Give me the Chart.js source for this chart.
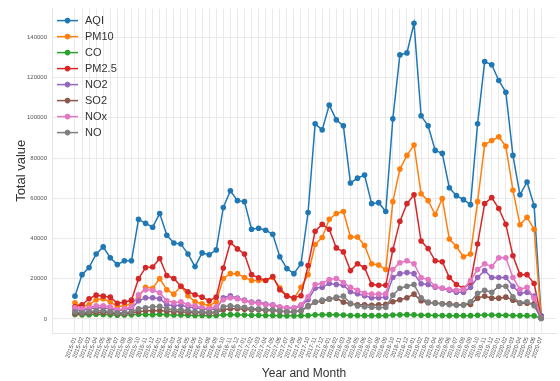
<!DOCTYPE html>
<html>
<head>
<meta charset="utf-8">
<script src="https://cdn.jsdelivr.net/npm/chart.js@4.4.0/dist/chart.umd.min.js"></script>
<style>
  html, body { margin: 0; padding: 0; background: #fff; overflow: hidden; }
  #c { display: block; }
</style>
</head>
<body>
<canvas id="c" width="560" height="381"></canvas>
<script>
// Monthly totals per pollutant, Jan 2015 – Jul 2020
const months = [
  '2015-01','2015-02','2015-03','2015-04','2015-05','2015-06','2015-07','2015-08','2015-09','2015-10','2015-11','2015-12',
  '2016-01','2016-02','2016-03','2016-04','2016-05','2016-06','2016-07','2016-08','2016-09','2016-10','2016-11','2016-12',
  '2017-01','2017-02','2017-03','2017-04','2017-05','2017-06','2017-07','2017-08','2017-09','2017-10','2017-11','2017-12',
  '2018-01','2018-02','2018-03','2018-04','2018-05','2018-06','2018-07','2018-08','2018-09','2018-10','2018-11','2018-12',
  '2019-01','2019-02','2019-03','2019-04','2019-05','2019-06','2019-07','2019-08','2019-09','2019-10','2019-11','2019-12',
  '2020-01','2020-02','2020-03','2020-04','2020-05','2020-06','2020-07'
];

const yTicks = [0, 20000, 40000, 60000, 80000, 100000, 120000, 140000];

const aqi = [11300,22000,25500,32300,35800,30400,27000,28900,28900,49500,
  47500,45600,52400,41600,37700,37200,32300,26000,32800,31900,
  34300,55400,63700,58800,58300,44600,45100,44100,42100,30900,
  25000,22500,27400,52900,97000,94000,106300,99000,96000,67600,
  70000,71500,57300,57800,53400,99500,131300,132300,147000,101000,
  96000,83800,82300,65200,61300,59300,56800,97000,128000,126400,
  118600,112700,81300,61700,68100,56300,1500];

const pm10 = [8000,6000,7000,9500,10000,8500,6000,6500,7500,11000,
  15700,15200,20000,14500,12300,16200,11500,8500,7500,6500,
  8500,20100,22500,22500,20600,19100,19100,19100,20600,15500,
  11500,10000,15700,22000,37000,40500,49500,52400,53400,40700,
  40700,36500,27400,26800,24500,58300,74500,81300,86500,62200,
  58800,51900,59800,39700,36000,30900,32300,58300,86700,88700,
  90600,85800,64000,46800,50500,44600,500];

const co = [2200,2000,2100,2300,2200,2000,1800,1900,2000,2300,
  2200,2100,2300,2000,1900,1900,1800,1700,1700,1600,
  1700,2000,2100,2000,1900,1800,1800,1700,1700,1600,
  1500,1500,1600,1700,2000,2000,2100,2000,1900,1700,
  1700,1600,1600,1600,1600,1900,2000,2100,2000,1800,
  1800,1700,1700,1600,1600,1600,1600,1800,1900,1900,
  1800,1800,1700,1600,1600,1500,200];

const pm25 = [6000,7000,10000,11800,11300,10800,7800,8300,9300,20000,
  25500,25800,30000,21600,20100,16200,13500,12000,10800,9000,
  10800,25300,38000,34800,32300,22000,20400,19100,21100,14500,
  11300,10500,11500,26500,43600,47000,44600,35300,33300,24000,
  27400,25500,17100,16700,16700,34300,48500,57300,61700,38700,
  35000,28900,28400,20600,17100,15200,18100,37200,57300,60300,
  54900,47000,31400,22000,22000,17600,800];

const no2 = [4500,4000,5000,5500,5500,5000,4000,4500,5000,9000,
  10500,10500,10000,7000,6500,6800,6000,5500,5000,4500,
  5000,10500,11500,10300,9300,8300,8300,7400,7000,5800,
  5400,5400,6500,9500,15200,15700,17600,17100,16700,13500,
  12500,11500,10500,10500,10800,20600,22500,23000,22500,17500,
  17100,15700,15200,14200,13200,13200,15700,20600,24000,20600,
  20600,20600,16200,12700,13200,11300,400];

const so2 = [2500,2500,3000,3200,3200,3000,2500,2500,3000,3500,
  4000,4000,4200,3800,3500,3500,3200,3000,3000,2800,
  3000,4500,5000,5000,4800,4500,4500,4200,4200,3800,
  3500,3500,4000,6500,8300,8800,9800,10300,8300,7500,
  7000,7000,6800,7000,7200,8500,9500,10500,12300,9000,
  8000,8000,7500,7500,7000,7000,7200,10300,11300,10300,
  10300,10800,9300,7800,7800,7500,300];

const nox = [5500,5000,5500,6500,6500,6000,4500,5000,6000,12000,
  14500,14200,13000,9000,8000,8500,7000,6500,5500,5000,
  6000,9500,10500,10000,9000,8000,7800,7000,6800,6000,
  5500,5500,7000,11000,17100,17600,19600,20100,18100,15700,
  14200,12700,12300,12300,12500,24500,27900,28900,27400,20500,
  19600,16200,15200,14700,14200,14700,19100,24500,27400,26000,
  30400,30400,20600,14700,15700,10300,500];

const no = [3500,3000,3500,4000,4000,3500,3000,3000,3500,5000,
  5500,6000,6200,5000,4500,4500,4000,3500,3500,3200,
  3500,6000,6500,6000,5800,5000,5000,4500,4500,4000,
  3500,3500,4000,6000,8300,9300,9800,10800,11300,7800,
  6400,6000,5800,5500,5800,11800,15200,16200,17100,10500,
  8300,7800,7500,7000,6800,6800,8500,12700,14200,13200,
  16200,16200,11000,8000,8500,6500,300];

const seriesNames = ['AQI', 'PM10', 'CO', 'PM2.5', 'NO2', 'SO2', 'NOx', 'NO'];
const seriesValues = [aqi, pm10, co, pm25, no2, so2, nox, no];
const seriesColors = ['#1f77b4', '#ff7f0e', '#2ca02c', '#d62728', '#9467bd', '#8c564b', '#e377c2', '#7f7f7f'];

const gridColor = '#e4e4e4';
const tickFont = { family: '"Liberation Sans", Arial, sans-serif', size: 6 };

// Legend in the upper-left corner of the plot area
const cornerLegend = {
  id: 'cornerLegend',
  afterDraw(chart) {
    const { ctx, chartArea } = chart;
    const x0 = chartArea.left + 5;
    const y0 = chartArea.top + 12;
    ctx.save();
    ctx.font = '11px "Liberation Sans", Arial, sans-serif';
    ctx.textBaseline = 'middle';
    ctx.textAlign = 'left';
    seriesNames.forEach((name, i) => {
      const y = y0 + i * 16;
      ctx.strokeStyle = seriesColors[i];
      ctx.lineWidth = 1.5;
      ctx.beginPath();
      ctx.moveTo(x0, y);
      ctx.lineTo(x0 + 21, y);
      ctx.stroke();
      ctx.fillStyle = seriesColors[i];
      ctx.beginPath();
      ctx.arc(x0 + 10.5, y, 2.8, 0, Math.PI * 2);
      ctx.fill();
      ctx.fillStyle = '#333';
      ctx.fillText(name, x0 + 28, y + 0.5);
    });
    ctx.restore();
  }
};

const datasets = seriesNames.map((name, i) => ({
  label: name,
  data: seriesValues[i].map((v, k) => ({ x: k, y: v })),
  borderColor: seriesColors[i],
  backgroundColor: seriesColors[i],
  borderWidth: 1.5,
  pointRadius: 2.8,
  pointBorderWidth: 0,
  pointBackgroundColor: seriesColors[i],
  tension: 0,
  fill: false,
  order: seriesNames.length - i
}));

new Chart(document.getElementById('c'), {
  type: 'line',
  data: { datasets },
  options: {
    responsive: false,
    animation: false,
    devicePixelRatio: 1,
    layout: { padding: { top: 5, right: 3, left: 0, bottom: 0 } },
    plugins: {
      legend: { display: false },
      tooltip: { enabled: false }
    },
    scales: {
      x: {
        type: 'linear',
        min: -3.25,
        max: 68.1,
        afterBuildTicks(scale) {
          scale.ticks = months.map((m, i) => ({ value: i }));
        },
        afterFit(scale) { scale.height = 48; },
        ticks: {
          autoSkip: false,
          minRotation: 70,
          maxRotation: 70,
          padding: 3,
          color: '#555',
          font: tickFont,
          callback: (v) => months[v] ?? ''
        },
        grid: { color: gridColor, lineWidth: 0.8, drawTicks: false },
        border: { color: gridColor },
        title: {
          display: true,
          text: 'Year and Month',
          color: '#333',
          font: { family: '"Liberation Sans", Arial, sans-serif', size: 12 },
          padding: { top: 2, bottom: 0 }
        }
      },
      y: {
        min: -7035,
        max: 154335,
        afterBuildTicks(scale) {
          scale.ticks = yTicks.map(v => ({ value: v }));
        },
        afterFit(scale) { scale.width = 52; },
        ticks: {
          padding: 5,
          color: '#555',
          font: tickFont,
          callback: (v) => String(v)
        },
        grid: { color: gridColor, lineWidth: 0.8, drawTicks: false },
        border: { color: gridColor },
        title: {
          display: true,
          text: 'Total value',
          color: '#333',
          font: { family: '"Liberation Sans", Arial, sans-serif', size: 13 },
          padding: { top: 14, bottom: 0 }
        }
      }
    }
  },
  plugins: [cornerLegend]
});
</script>
</body>
</html>
